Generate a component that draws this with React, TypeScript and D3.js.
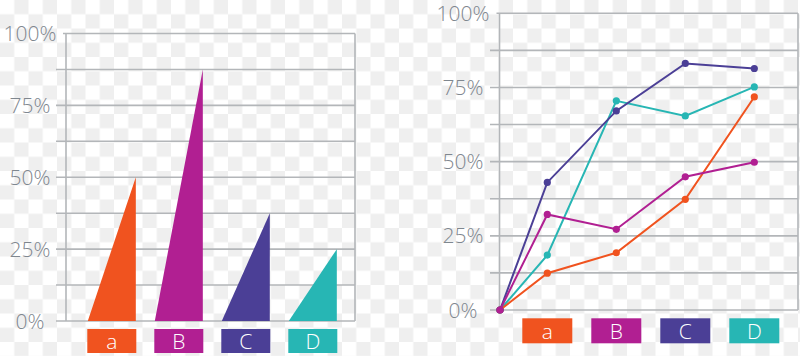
import React from "react";
import * as d3 from "d3";

const categories = ["a", "B", "C", "D"];
const barValues = [0.5, 0.875, 0.375, 0.25];
const colors = ["#f0531f", "#b11f92", "#4b3f96", "#27b6b4"];
const tickValues = [0, 0.25, 0.5, 0.75, 1];
const gridValues = [0, 0.125, 0.25, 0.375, 0.5, 0.625, 0.75, 0.875, 1];
const tickLabels = ["0%", "25%", "50%", "75%", "100%"];
// line series: values at categories a, B, C, D (each starts at 0 at origin)
const seriesNames = ["a", "B", "C", "D"];
const lineValues = [
  [0.124, 0.193, 0.373, 0.718],
  [0.322, 0.272, 0.449, 0.498],
  [0.43, 0.671, 0.831, 0.814],
  [0.185, 0.705, 0.654, 0.752],
];
const drawOrder = [3, 0, 2, 1];

const GRID = "#b3b6b9";
const TEXT = "#7f878f";
const FONT = "'Open Sans', 'Lato', sans-serif";

export default function App() {
  const W = 800, H = 356;

  // left chart
  const ly = d3.scaleLinear().domain([0, 1]).range([321, 33.5]);
  const lx = d3.scaleBand<string>().domain(categories).range([78.3, 346.3]).paddingInner(19 / 67).paddingOuter(19 / 134);
  const lFrameL = 66, lFrameR = 355;

  // right chart
  const ry = d3.scaleLinear().domain([0, 1]).range([310, 13.3]);
  const rx = d3.scaleBand<string>().domain(categories).range([512.8, 788.8]).paddingInner(19 / 69).paddingOuter(19 / 138);
  const rFrameL = 499.5, rFrameR = 798;

  const line = d3.line<[number, number]>().x(d => d[0]).y(d => d[1]);

  return (
    <svg width={W} height={H} style={{ position: "absolute", left: 0, top: 0 }} fontFamily={FONT}>
      <defs>
        <pattern id="checker" width={28.5} height={28.5} patternUnits="userSpaceOnUse">
          <rect width={28.5} height={28.5} fill="#ffffff" />
          <rect x={14.25} y={0} width={14.25} height={14.25} fill="#efefef" />
          <rect x={0} y={14.25} width={14.25} height={14.25} fill="#efefef" />
        </pattern>
      </defs>
      <rect width={W} height={H} fill="url(#checker)" />

      {/* LEFT CHART */}
      <g>
        {gridValues.map((v, i) => (
          <line key={i} x1={v === 1 ? 63 : 56} x2={lFrameR} y1={ly(v)} y2={ly(v)} stroke={GRID} strokeWidth={1.6} />
        ))}
        <line x1={lFrameL} x2={lFrameL} y1={ly(1)} y2={ly(0)} stroke={GRID} strokeWidth={1.6} />
        <line x1={lFrameR} x2={lFrameR} y1={ly(1)} y2={ly(0)} stroke={GRID} strokeWidth={1.6} />
        {tickValues.map((v, i) => (
          <text key={i} x={30} y={ly(v)} dy="0.36em" textAnchor="middle" fill={TEXT} fontSize={21} fontWeight={300}>
            {tickLabels[i]}
          </text>
        ))}
        {categories.map((c, i) => {
          const x0 = lx(c)!, x1 = x0 + lx.bandwidth();
          const pts: [number, number][] = [[x0, ly(0)], [x1, ly(0)], [x1, ly(barValues[i])]];
          return <path key={c} d={line(pts)! + "Z"} fill={colors[i]} />;
        })}
        {categories.map((c, i) => (
          <g key={c}>
            <rect x={lx(c)! - 0.5} y={329} width={lx.bandwidth() + 1} height={24} fill={colors[i]} />
            <text x={lx(c)! + lx.bandwidth() / 2} y={341} dy="0.36em" textAnchor="middle" fill="#fff" fontSize={21} fontWeight={300}>
              {c}
            </text>
          </g>
        ))}
      </g>

      {/* RIGHT CHART */}
      <g>
        {gridValues.map((v, i) => (
          <line key={i} x1={v === 1 ? 496.5 : 490} x2={rFrameR} y1={ry(v)} y2={ry(v)} stroke={GRID} strokeWidth={1.6} />
        ))}
        <line x1={rFrameL} x2={rFrameL} y1={ry(1)} y2={ry(0)} stroke={GRID} strokeWidth={1.6} />
        <line x1={rFrameR} x2={rFrameR} y1={ry(1)} y2={ry(0)} stroke={GRID} strokeWidth={1.6} />
        {tickValues.map((v, i) => (
          <text key={i} x={463} y={ry(v)} dy="0.36em" textAnchor="middle" fill={TEXT} fontSize={21} fontWeight={300}>
            {tickLabels[i]}
          </text>
        ))}
        {drawOrder.map(si => {
          const pts: [number, number][] = [[rFrameL + 0.5, ry(0)]].concat(
            lineValues[si].map((v, j) => [rx(categories[j])! + rx.bandwidth() / 2, ry(v)] as [number, number])
          ) as [number, number][];
          return (
            <g key={seriesNames[si]}>
              <path d={line(pts)!} fill="none" stroke={colors[si]} strokeWidth={2} />
              {pts.map((p, k) => (
                <circle key={k} cx={p[0]} cy={p[1]} r={3.6} fill={colors[si]} />
              ))}
            </g>
          );
        })}
        {categories.map((c, i) => (
          <g key={c}>
            <rect x={rx(c)!} y={318.3} width={rx.bandwidth()} height={25} fill={colors[i]} />
            <text x={rx(c)! + rx.bandwidth() / 2} y={331} dy="0.36em" textAnchor="middle" fill="#fff" fontSize={21} fontWeight={300}>
              {c}
            </text>
          </g>
        ))}
      </g>
    </svg>
  );
}
